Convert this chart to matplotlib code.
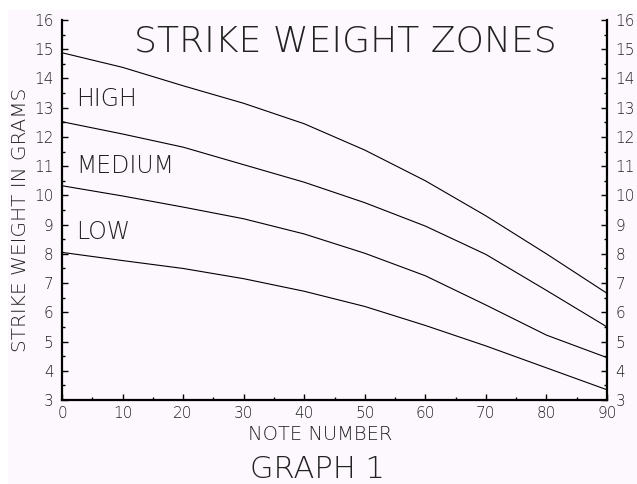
import numpy as np
import matplotlib
matplotlib.use("Agg")
import matplotlib.pyplot as plt
from matplotlib.patches import Rectangle
from matplotlib.ticker import MultipleLocator

# note numbers and strike weights (grams)
notes = [0, 10, 20, 30, 40, 50, 60, 70, 80, 90]
high_top = [14.88, 14.38, 13.75, 13.15, 12.45, 11.55, 10.50, 9.30, 8.00, 6.65]
medium_top = [12.52, 12.10, 11.65, 11.05, 10.45, 9.75, 8.95, 7.98, 6.75, 5.50]
low_top = [10.33, 9.98, 9.60, 9.20, 8.68, 8.02, 7.25, 6.25, 5.22, 4.45]
low_bottom = [8.05, 7.77, 7.50, 7.15, 6.72, 6.20, 5.55, 4.85, 4.10, 3.35]

zone_labels = ["HIGH", "MEDIUM", "LOW"]
zone_label_y = [13.3, 11.0, 8.75]

bg = "#fdf8fd"
txt = "#222222"

plt.rcParams['font.family'] = ['DejaVu Sans']

fig = plt.figure(figsize=(6.37, 4.84), dpi=100)
fig.patch.set_facecolor("white")
fig.patches.append(Rectangle((8 / 637, 0), 1, 1 - 10 / 484, transform=fig.transFigure,
                             facecolor=bg, edgecolor="none", zorder=-10))

ax = fig.add_axes([62 / 637, 1 - 400 / 484, 545 / 637, 380 / 484])
ax.set_facecolor(bg)

for series in [high_top, medium_top, low_top, low_bottom]:
    ax.plot(notes, series, color="black", lw=0.8)

ax.set_xlim(0, 90)
ax.set_ylim(3, 16)
ax.xaxis.set_major_locator(MultipleLocator(10))
ax.xaxis.set_minor_locator(MultipleLocator(5))
ax.yaxis.set_major_locator(MultipleLocator(1))
ax.yaxis.set_minor_locator(MultipleLocator(0.5))

ax.spines["top"].set_visible(False)
for s in ["left", "bottom", "right"]:
    ax.spines[s].set_linewidth(1.6)

ax.tick_params(which="both", direction="in", left=True, right=True,
               labelright=True, bottom=True, top=False, colors="black",
               labelcolor=txt, labelsize=11)
ax.tick_params(which="major", length=4, width=1)
ax.tick_params(which="minor", length=2.5, width=1)
ax.tick_params(axis="y", which="major", pad=6)
ax.tick_params(axis="x", which="major", pad=4)
for lbl in ax.get_xticklabels() + ax.get_yticklabels():
    lbl.set_fontweight("light")

for name, yv in zip(zone_labels, zone_label_y):
    ax.text(2.3, yv, name, fontsize=17, color=txt, va="center", ha="left",
            fontweight="light")

fig.text(345 / 637, 1 - 41 / 484, "STRIKE WEIGHT ZONES", fontsize=26, color=txt,
         ha="center", va="center", fontweight="light")
fig.text(320 / 637, 1 - 434 / 484, "NOTE NUMBER", fontsize=14, color=txt,
         ha="center", va="center", fontweight="light")
fig.text(317 / 637, 1 - 478 / 484, "GRAPH 1", fontsize=22, color=txt,
         ha="center", va="baseline", fontweight="light")
fig.text(21 / 637, 1 - 220 / 484, "STRIKE WEIGHT IN GRAMS", fontsize=14.5, color=txt,
         ha="center", va="center", rotation=90, fontweight="light")

fig.savefig("out.png", dpi=100, facecolor=fig.get_facecolor())
